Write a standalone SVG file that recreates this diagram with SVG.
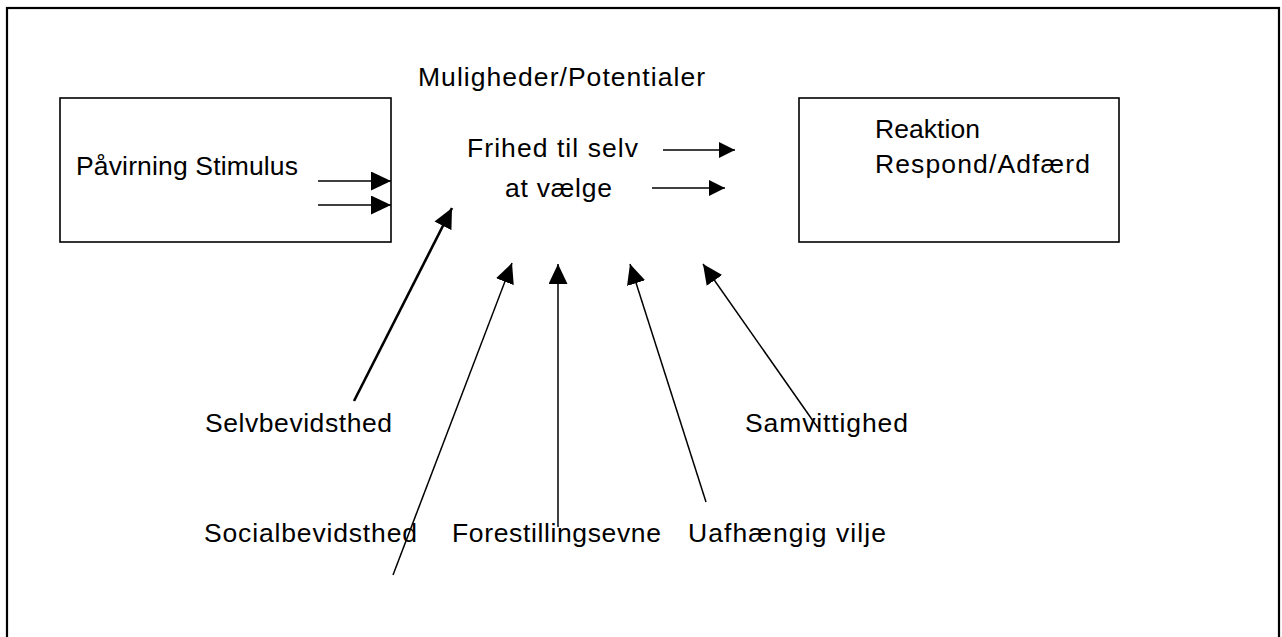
<svg xmlns="http://www.w3.org/2000/svg" width="1282" height="637" viewBox="0 0 1282 637">
  <style>
    text { font-family: "Liberation Sans", Arial, sans-serif; font-size: 26.5px; fill: #000; }
    .box { fill: #fff; stroke: #000; stroke-width: 1.6; }
    .frame { fill: none; stroke: #000; stroke-width: 2.2; }
    .link { fill: none; stroke: #000; stroke-width: 1.5; }
    .thick { stroke-width: 2.6; }
  </style>
  <defs>
    <marker id="head" markerUnits="userSpaceOnUse" markerWidth="21" markerHeight="20" refX="20" refY="9.5" orient="auto">
      <path d="M0,0 L20,9.5 L0,19 z" fill="#000"/>
    </marker>
    <marker id="headSmall" markerUnits="userSpaceOnUse" markerWidth="17" markerHeight="17" refX="16" refY="8" orient="auto">
      <path d="M0,0 L16,8 L0,16 z" fill="#000"/>
    </marker>
  </defs>

  <rect width="1282" height="637" fill="#fff"/>
  <!-- page frame (open at the bottom) -->
  <rect class="frame" x="7" y="8" width="1272" height="660"/>

  <g id="stimulus">
    <rect class="box" x="60" y="98" width="331" height="144"/>
    <text x="76" y="175" textLength="222">Påvirning Stimulus</text>
  </g>

  <g id="potentialer">
    <text x="418" y="86" textLength="287">Muligheder/Potentialer</text>
  </g>

  <g id="frihed">
    <text x="467" y="157" textLength="171">Frihed til selv</text>
    <text x="505" y="197" textLength="107">at vælge</text>
  </g>

  <g id="reaktion">
    <rect class="box" x="799" y="98" width="320" height="144"/>
    <text x="875" y="138" textLength="105">Reaktion</text>
    <text x="875" y="173" textLength="215">Respond/Adfærd</text>
  </g>

  <g id="selvbevidsthed">
    <text x="205" y="432" textLength="187">Selvbevidsthed</text>
  </g>
  <g id="samvittighed">
    <text x="745" y="432" textLength="163">Samvittighed</text>
  </g>
  <g id="socialbevidsthed">
    <text x="204" y="542" textLength="213">Socialbevidsthed</text>
  </g>
  <g id="forestillingsevne">
    <text x="452" y="542" textLength="209">Forestillingsevne</text>
  </g>
  <g id="uafhaengig">
    <text x="688" y="542" textLength="198">Uafhængig vilje</text>
  </g>

  <g id="connectors">
    <line class="link" x1="318" y1="181" x2="391" y2="181" marker-end="url(#head)"/>
    <line class="link" x1="318" y1="205" x2="391" y2="205" marker-end="url(#head)"/>
    <line class="link" x1="663" y1="150" x2="735" y2="150" marker-end="url(#headSmall)"/>
    <line class="link" x1="652" y1="188" x2="725" y2="188" marker-end="url(#headSmall)"/>
    <line class="link thick" x1="354" y1="401" x2="452" y2="208" marker-end="url(#head)"/>
    <line class="link" x1="393" y1="575" x2="512" y2="263" marker-end="url(#head)"/>
    <line class="link" x1="558" y1="527" x2="558" y2="264" marker-end="url(#head)"/>
    <line class="link" x1="706" y1="502" x2="630" y2="264" marker-end="url(#head)"/>
    <line class="link" x1="818" y1="428" x2="703" y2="264" marker-end="url(#head)"/>
  </g>
</svg>
